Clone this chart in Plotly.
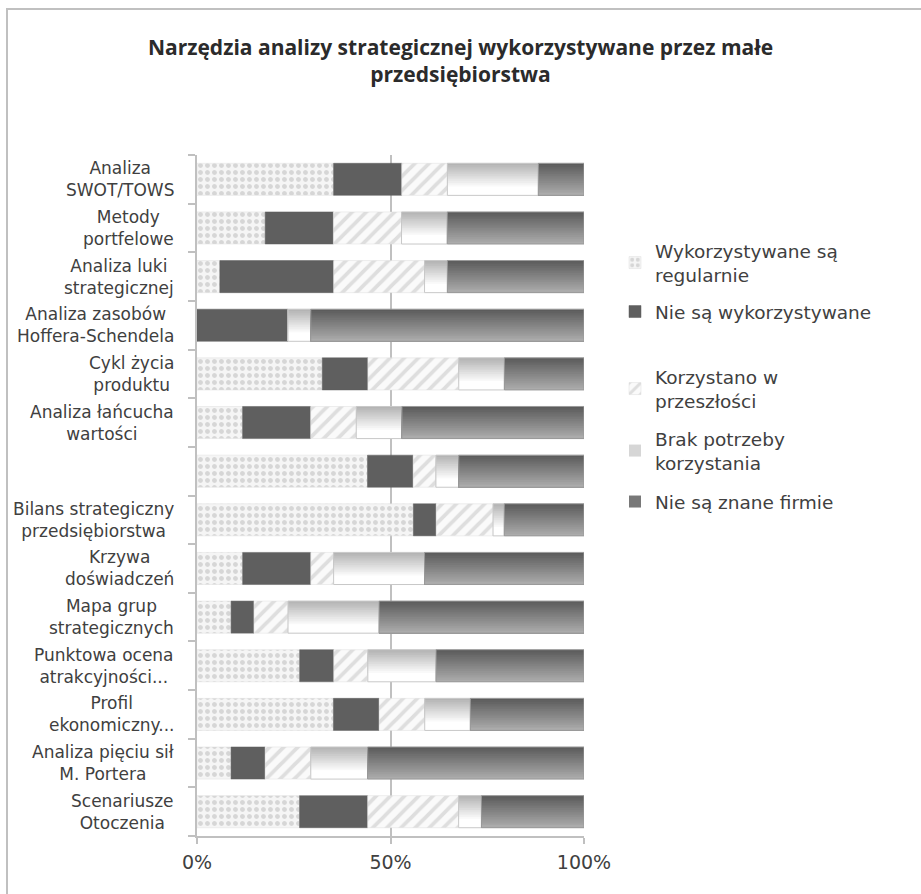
import plotly.graph_objects as go

# Narzędzia analizy strategicznej – odsetek firm (%), kolejność od góry
categories = [
    "Analiza<br>SWOT/TOWS",
    "Metody<br>portfelowe",
    "Analiza luki<br>strategicznej",
    "Analiza zasobów<br>Hoffera-Schendela",
    "Cykl życia<br>produktu",
    "Analiza łańcucha<br>wartości",
    "",
    "Bilans strategiczny<br>przedsiębiorstwa",
    "Krzywa<br>doświadczeń",
    "Mapa grup<br>strategicznych",
    "Punktowa ocena<br>atrakcyjności...",
    "Profil<br>ekonomiczny...",
    "Analiza pięciu sił<br>M. Portera",
    "Scenariusze<br>Otoczenia",
]

series_names = [
    "Wykorzystywane są<br>regularnie",
    "Nie są wykorzystywane",
    "Korzystano w<br>przeszłości",
    "Brak potrzeby<br>korzystania",
    "Nie są znane firmie",
]

regularnie = [35.3, 17.6, 5.9, 0.0, 32.4, 11.8, 44.1, 55.9, 11.8, 8.8, 26.5, 35.3, 8.8, 26.5]
nie_wykorzystywane = [17.6, 17.6, 29.4, 23.5, 11.8, 17.6, 11.8, 5.9, 17.6, 5.9, 8.8, 11.8, 8.8, 17.6]
w_przeszlosci = [11.8, 17.6, 23.5, 0.0, 23.5, 11.8, 5.9, 14.7, 5.9, 8.8, 8.8, 11.8, 11.8, 23.5]
brak_potrzeby = [23.5, 11.8, 5.9, 5.9, 11.8, 11.8, 5.9, 2.9, 23.5, 23.5, 17.6, 11.8, 14.7, 5.9]
nie_znane = [11.8, 35.3, 35.3, 70.6, 20.6, 47.1, 32.4, 20.6, 41.2, 52.9, 38.2, 29.4, 55.9, 26.5]

values = [regularnie, nie_wykorzystywane, w_przeszlosci, brak_potrzeby, nie_znane]

# plot-area geometry (pixels) used to place paper-referenced items
FIG_W, FIG_H = 921, 894
L, R, T, B = 197, 337, 155, 58
PW, PH = FIG_W - L - R, FIG_H - T - B


def px_to_paper_x(px):
    return (px - L) / PW


def px_to_paper_y(py):
    return (FIG_H - B - py) / PH


# normalise every row to 100 % and compute the stacking bases
n_rows = len(categories)
pct = []
for s in values:
    pct.append([0.0] * n_rows)
for i in range(n_rows):
    tot = sum(s[i] for s in values)
    for k, s in enumerate(values):
        pct[k][i] = s[i] / tot * 100.0
bases = []
run = [0.0] * n_rows
for k in range(len(values)):
    bases.append(list(run))
    run = [run[i] + pct[k][i] for i in range(n_rows)]

ypos = list(range(n_rows))
BAR_H = 0.66

TEXT_FONT = "DejaVu Sans"
TEXT_COLOR = "#404040"

fig = go.Figure()

legend_ids = ["legend", "legend2", "legend3", "legend4", "legend5"]

# patterned series
fig.add_trace(go.Bar(
    y=ypos, x=pct[0], base=bases[0], orientation="h", width=BAR_H,
    name=series_names[0], legend=legend_ids[0],
    marker=dict(color="#f4f4f4",
                pattern=dict(shape=".", fgcolor="#b8b8b8", bgcolor="#f5f5f5",
                             size=7, solidity=0.4, fillmode="overlay"),
                line=dict(color="#dedede", width=0.5)),
    hoverinfo="skip",
))
fig.add_trace(go.Bar(
    y=ypos, x=pct[1], base=bases[1], orientation="h", width=BAR_H,
    name=series_names[1], legend=legend_ids[1],
    marker=dict(color="#5f5f5f", line=dict(color="#5f5f5f", width=0.5)),
    hoverinfo="skip",
))
fig.add_trace(go.Bar(
    y=ypos, x=pct[2], base=bases[2], orientation="h", width=BAR_H,
    name=series_names[2], legend=legend_ids[2],
    marker=dict(color="#ffffff",
                pattern=dict(shape="/", fgcolor="#c2c2c2", bgcolor="#fafafa",
                             size=10, solidity=0.38, fillmode="overlay"),
                line=dict(color="#dedede", width=0.5)),
    hoverinfo="skip",
))


def mix(c1, c2, t):
    a = [int(c1[j:j + 2], 16) for j in (1, 3, 5)]
    b = [int(c2[j:j + 2], 16) for j in (1, 3, 5)]
    return "#" + "".join(f"{round(a[j] + (b[j] - a[j]) * t):02x}" for j in range(3))


# vertically shaded series, built from horizontal bands of each bar
K = 18
shaded = [
    (3, "#b4b4b4", "#ffffff", "#c8c8c8"),
    (4, "#5c5c5c", "#ababab", "#9a9a9a"),
]
for k_ser, top_c, bot_c, edge_c in shaded:
    for band in range(K):
        t = band / (K - 1)
        # ease toward the light end so the lower part of the band stays pale
        col = mix(top_c, bot_c, min(1.0, t * 1.3) if k_ser == 3 else t)
        off = -BAR_H / 2 + band * BAR_H / K
        fig.add_trace(go.Bar(
            y=ypos, x=pct[k_ser], base=bases[k_ser], orientation="h",
            width=BAR_H - band * BAR_H / K, offset=off,
            name=series_names[k_ser], legend=legend_ids[k_ser],
            showlegend=(band == K // 3),
            marker=dict(color=col, line=dict(width=0)),
            hoverinfo="skip",
        ))
    fig.add_trace(go.Bar(
        y=ypos, x=pct[k_ser], base=bases[k_ser], orientation="h", width=BAR_H,
        marker=dict(color="rgba(0,0,0,0)", line=dict(color=edge_c, width=1)),
        showlegend=False, hoverinfo="skip",
    ))

# category labels: right-aligned blocks with centred lines
for i, c in enumerate(categories):
    if not c:
        continue
    fig.add_annotation(
        x=px_to_paper_x(176), xref="paper", y=i, yref="y",
        text=c, showarrow=False, xanchor="right", yanchor="middle", align="center",
        font=dict(family=TEXT_FONT, size=17, color=TEXT_COLOR),
    )

# chart frame (top and left edges, the rest runs off the page)
fig.add_shape(type="rect", xref="paper", yref="paper",
              x0=px_to_paper_x(7), x1=px_to_paper_x(960),
              y0=px_to_paper_y(940), y1=px_to_paper_y(9),
              line=dict(color="#c0c0c0", width=2), layer="below")

legend_tops = [232, 293, 358, 420, 483]
legend_layout = {}
for lid, top in zip(legend_ids, legend_tops):
    legend_layout[lid] = dict(
        x=px_to_paper_x(615), xanchor="left",
        y=px_to_paper_y(top), yanchor="top",
        bgcolor="rgba(0,0,0,0)",
        font=dict(family=TEXT_FONT, size=18.5, color=TEXT_COLOR),
        itemwidth=30,
    )

fig.update_layout(
    width=FIG_W, height=FIG_H,
    margin=dict(l=L, r=R, t=T, b=B),
    paper_bgcolor="white", plot_bgcolor="white",
    barmode="overlay",
    title=dict(
        text="<b>Narzędzia analizy strategicznej wykorzystywane przez małe<br>przedsiębiorstwa</b>",
        x=0.5, xanchor="center", xref="container",
        y=1 - 55 / FIG_H, yanchor="middle",
        font=dict(family="Open Sans", size=21, color="#2b2b2b"),
    ),
    xaxis=dict(
        range=[0, 100], tickvals=[0, 50, 100], ticktext=["0%", "50%", "100%"],
        showgrid=True, gridcolor="#c0c0c0", gridwidth=2,
        zeroline=False,
        showline=True, linecolor="#c0c0c0", linewidth=2,
        ticks="outside", ticklen=6, tickcolor="#c0c0c0", tickwidth=2,
        tickfont=dict(family=TEXT_FONT, size=19, color=TEXT_COLOR),
        ticklabelstandoff=2,
        fixedrange=True,
    ),
    yaxis=dict(
        range=[n_rows - 0.5, -0.5],
        tickvals=[i - 0.5 for i in range(n_rows + 1)],
        ticktext=[""] * (n_rows + 1),
        showgrid=False, zeroline=False,
        showline=True, linecolor="#c0c0c0", linewidth=2,
        ticks="outside", ticklen=7, tickcolor="#c0c0c0", tickwidth=2,
        fixedrange=True,
    ),
    **legend_layout,
)

fig.write_html("out.html")
